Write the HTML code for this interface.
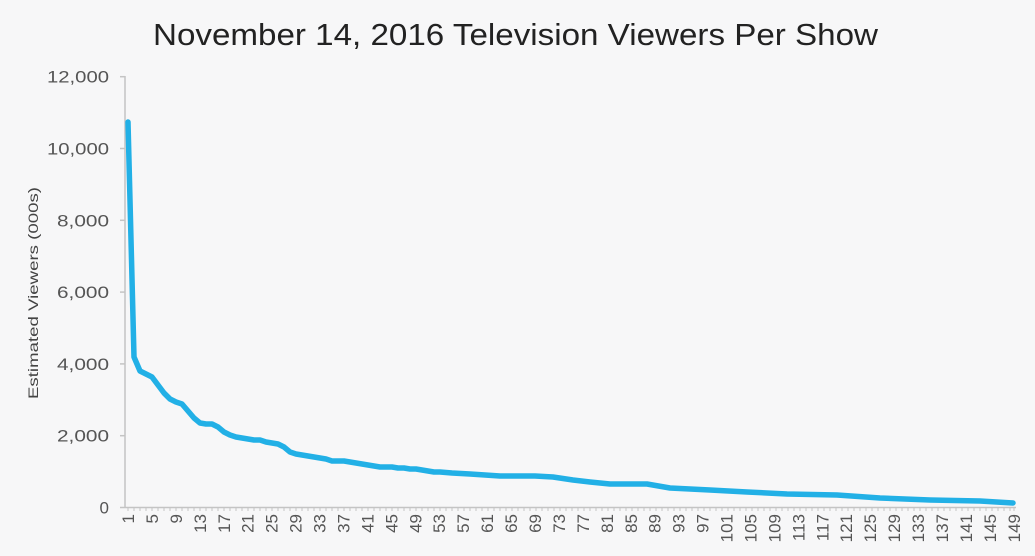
<!DOCTYPE html>
<html>
<head>
<meta charset="utf-8">
<style>
html,body{margin:0;padding:0;background:#f7f7f8;}
svg{display:block;}
text{font-family:"Liberation Sans",sans-serif;}
</style>
</head>
<body>
<svg width="1035" height="556" viewBox="0 0 1035 556" xmlns="http://www.w3.org/2000/svg">
<rect width="1035" height="556" fill="#f7f7f8"/>
<text x="153" y="45" font-size="31" fill="#222" textLength="725" lengthAdjust="spacingAndGlyphs">November 14, 2016 Television Viewers Per Show</text>
<text transform="translate(38,293) rotate(-90)" text-anchor="middle" font-size="14" fill="#444" textLength="212" lengthAdjust="spacingAndGlyphs">Estimated Viewers (000s)</text>
<g font-size="17" fill="#555" text-anchor="end">
<text x="109" y="507.5" dy="0.35em">0</text>
<text x="109" y="435.7" dy="0.35em" textLength="52" lengthAdjust="spacingAndGlyphs">2,000</text>
<text x="109" y="363.9" dy="0.35em" textLength="52" lengthAdjust="spacingAndGlyphs">4,000</text>
<text x="109" y="292.1" dy="0.35em" textLength="52" lengthAdjust="spacingAndGlyphs">6,000</text>
<text x="109" y="220.3" dy="0.35em" textLength="52" lengthAdjust="spacingAndGlyphs">8,000</text>
<text x="109" y="148.5" dy="0.35em" textLength="62" lengthAdjust="spacingAndGlyphs">10,000</text>
<text x="109" y="76.7" dy="0.35em" textLength="62" lengthAdjust="spacingAndGlyphs">12,000</text>
</g>
<g stroke="#c4c4c4" stroke-width="1.5">
<line x1="125" y1="76" x2="125" y2="508"/>
<line x1="125" y1="507.5" x2="1016" y2="507.5"/>
<line x1="120" y1="507.5" x2="125" y2="507.5"/>
<line x1="120" y1="435.7" x2="125" y2="435.7"/>
<line x1="120" y1="363.9" x2="125" y2="363.9"/>
<line x1="120" y1="292.1" x2="125" y2="292.1"/>
<line x1="120" y1="220.3" x2="125" y2="220.3"/>
<line x1="120" y1="148.5" x2="125" y2="148.5"/>
<line x1="120" y1="76.7" x2="125" y2="76.7"/>
</g>
<g id="xt" stroke="#c4c4c4" stroke-width="1"></g>
<g id="xl" font-size="17" fill="#555" text-anchor="end"></g>
<polyline fill="none" stroke="#22b0e6" stroke-width="5.5" stroke-linejoin="round" stroke-linecap="round"
points="128,122 134,357 140,371 146,374 152,377 158,385 164,393 170,399 176,402 182,404 188,411 194,418 200,423 206,424 212,424 218,427 224,432 230,435 236,437 242,438 248,439 254,440 260,440 266,442 272,443 278,444 284,447 290,452 296,454 302,455 308,456 314,457 320,458 326,459 332,461 338,461 344,461 350,462 356,463 362,464 368,465 374,466 380,467 386,467 392,467 398,468 404,468 410,469 416,469 422,470 428,471 434,472 440,472 452,473 470,474 485,475 500,476 535,476 553,477 573,480 590,482 610,484 647,484 670,488 710,490 747,492 787,494 837,495 880,498 930,500 980,501 1013,503"/>
<g font-size="17" fill="#555" text-anchor="end">
<text transform="translate(128,514) rotate(-90)" dy="0.35em">1</text>
<text transform="translate(151.9,514) rotate(-90)" dy="0.35em">5</text>
<text transform="translate(175.9,514) rotate(-90)" dy="0.35em">9</text>
<text transform="translate(199.8,514) rotate(-90)" dy="0.35em">13</text>
<text transform="translate(223.8,514) rotate(-90)" dy="0.35em">17</text>
<text transform="translate(247.7,514) rotate(-90)" dy="0.35em">21</text>
<text transform="translate(271.6,514) rotate(-90)" dy="0.35em">25</text>
<text transform="translate(295.6,514) rotate(-90)" dy="0.35em">29</text>
<text transform="translate(319.5,514) rotate(-90)" dy="0.35em">33</text>
<text transform="translate(343.5,514) rotate(-90)" dy="0.35em">37</text>
<text transform="translate(367.4,514) rotate(-90)" dy="0.35em">41</text>
<text transform="translate(391.4,514) rotate(-90)" dy="0.35em">45</text>
<text transform="translate(415.3,514) rotate(-90)" dy="0.35em">49</text>
<text transform="translate(439.2,514) rotate(-90)" dy="0.35em">53</text>
<text transform="translate(463.2,514) rotate(-90)" dy="0.35em">57</text>
<text transform="translate(487.1,514) rotate(-90)" dy="0.35em">61</text>
<text transform="translate(511.1,514) rotate(-90)" dy="0.35em">65</text>
<text transform="translate(535,514) rotate(-90)" dy="0.35em">69</text>
<text transform="translate(558.9,514) rotate(-90)" dy="0.35em">73</text>
<text transform="translate(582.9,514) rotate(-90)" dy="0.35em">77</text>
<text transform="translate(606.8,514) rotate(-90)" dy="0.35em">81</text>
<text transform="translate(630.8,514) rotate(-90)" dy="0.35em">85</text>
<text transform="translate(654.7,514) rotate(-90)" dy="0.35em">89</text>
<text transform="translate(678.7,514) rotate(-90)" dy="0.35em">93</text>
<text transform="translate(702.6,514) rotate(-90)" dy="0.35em">97</text>
<text transform="translate(726.5,514) rotate(-90)" dy="0.35em">101</text>
<text transform="translate(750.5,514) rotate(-90)" dy="0.35em">105</text>
<text transform="translate(774.4,514) rotate(-90)" dy="0.35em">109</text>
<text transform="translate(798.4,514) rotate(-90)" dy="0.35em">113</text>
<text transform="translate(822.3,514) rotate(-90)" dy="0.35em">117</text>
<text transform="translate(846.2,514) rotate(-90)" dy="0.35em">121</text>
<text transform="translate(870.2,514) rotate(-90)" dy="0.35em">125</text>
<text transform="translate(894.1,514) rotate(-90)" dy="0.35em">129</text>
<text transform="translate(918.1,514) rotate(-90)" dy="0.35em">133</text>
<text transform="translate(942,514) rotate(-90)" dy="0.35em">137</text>
<text transform="translate(965.9,514) rotate(-90)" dy="0.35em">141</text>
<text transform="translate(989.9,514) rotate(-90)" dy="0.35em">145</text>
<text transform="translate(1013.8,514) rotate(-90)" dy="0.35em">149</text>
</g>
<path stroke="#c4c4c4" stroke-width="1" fill="none" d="M128,507v4M134,507v4M140,507v4M146,507v4M152,507v4M158,507v4M164,507v4M170,507v4M176,507v4M182,507v4M188,507v4M194,507v4M200,507v4M206,507v4M212,507v4M218,507v4M224,507v4M230,507v4M236,507v4M242,507v4M248,507v4M254,507v4M260,507v4M266,507v4M272,507v4M278,507v4M284,507v4M290,507v4M296,507v4M302,507v4M308,507v4M314,507v4M320,507v4M326,507v4M332,507v4M338,507v4M344,507v4M350,507v4M356,507v4M362,507v4M368,507v4M374,507v4M380,507v4M386,507v4M392,507v4M398,507v4M404,507v4M410,507v4M416,507v4M422,507v4M428,507v4M434,507v4M440,507v4M446,507v4M452,507v4M458,507v4M464,507v4M470,507v4M476,507v4M482,507v4M488,507v4M494,507v4M500,507v4M506,507v4M512,507v4M518,507v4M524,507v4M530,507v4M536,507v4M542,507v4M548,507v4M554,507v4M560,507v4M566,507v4M572,507v4M578,507v4M584,507v4M590,507v4M596,507v4M602,507v4M608,507v4M614,507v4M620,507v4M626,507v4M632,507v4M638,507v4M644,507v4M650,507v4M656,507v4M662,507v4M668,507v4M674,507v4M680,507v4M686,507v4M692,507v4M698,507v4M704,507v4M710,507v4M716,507v4M722,507v4M728,507v4M734,507v4M740,507v4M746,507v4M752,507v4M758,507v4M764,507v4M770,507v4M776,507v4M782,507v4M788,507v4M794,507v4M800,507v4M806,507v4M812,507v4M818,507v4M824,507v4M830,507v4M836,507v4M842,507v4M848,507v4M854,507v4M860,507v4M866,507v4M872,507v4M878,507v4M884,507v4M890,507v4M896,507v4M902,507v4M908,507v4M914,507v4M920,507v4M926,507v4M932,507v4M938,507v4M944,507v4M950,507v4M956,507v4M962,507v4M968,507v4M974,507v4M980,507v4M986,507v4M992,507v4M998,507v4M1004,507v4M1010,507v4M1014,507v4"/>
</svg>
</body>
</html>
